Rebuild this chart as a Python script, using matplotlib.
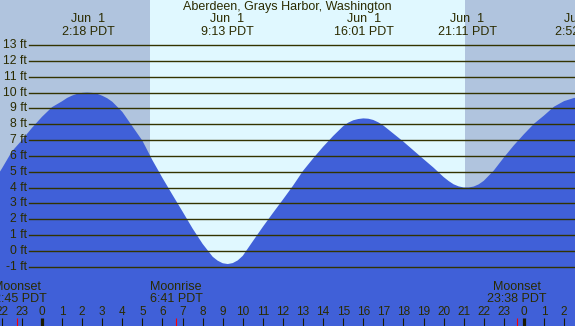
import matplotlib
matplotlib.use("Agg")
import matplotlib.pyplot as plt

plt.rcParams['font.family'] = ['Liberation Sans', 'DejaVu Sans']

# hauteur de marée (heures depuis minuit le 1er juin, pieds)
hours = [-2.5, -2.0, -1.5, -1.0, -0.5, 0.0, 0.5, 1.0, 1.25, 1.5, 1.75, 2.0, 2.25, 2.5,
         2.75, 3.0, 3.25, 3.5, 4.0, 4.5, 5.0, 5.5, 6.0, 6.5, 7.0, 7.5, 8.0, 8.5,
         8.75, 9.0, 9.25, 9.5, 9.75, 10.0, 10.5, 11.0, 11.5, 12.0, 12.5, 13.0, 13.5,
         14.0, 14.5, 15.0, 15.25, 15.5, 15.75, 16.0, 16.25, 16.5, 16.75, 17.0, 17.5,
         18.0, 18.5, 19.0, 19.5, 20.0, 20.25, 20.5, 20.75, 21.0, 21.25, 21.5, 21.75,
         22.0, 22.5, 23.0, 23.5, 24.0, 24.5, 25.0, 25.5, 26.0, 26.5, 27.0]
heights = [4.2, 5.2, 6.28, 7.0, 7.77, 8.47, 9.08, 9.45, 9.66, 9.81, 9.92, 9.98, 10.0, 9.98,
           9.92, 9.80, 9.64, 9.42, 8.78, 7.87, 6.96, 5.73, 4.61, 3.54, 2.49, 1.42, 0.45, -0.36,
           -0.61, -0.77, -0.82, -0.76, -0.59, -0.30, 0.62, 1.53, 2.40, 3.25, 4.12, 5.06, 5.84,
           6.58, 7.26, 7.88, 8.1, 8.25, 8.33, 8.37, 8.35, 8.27, 8.12, 7.92, 7.41,
           6.90, 6.35, 5.80, 5.26, 4.67, 4.42, 4.21, 4.08, 4.01, 4.01, 4.07, 4.21,
           4.43, 5.08, 5.9, 6.67, 7.37, 8.03, 8.55, 9.11, 9.46, 9.66, 9.7]

# extrêmes annoncés en haut
tide_times = [2 + 18/60, 9 + 13/60, 16 + 1/60, 21 + 11/60, 24 + 2 + 52/60]
tide_labels = ["2:18 PDT", "9:13 PDT", "16:01 PDT", "21:11 PDT", "2:52 PDT"]

# lune (heures depuis minuit, la première est la veille)
moon_times = [-(1 + 15/60), 6 + 41/60, 23 + 38/60]
moon_names = ["Moonset", "Moonrise", "Moonset"]
moon_labels = ["22:45 PDT", "6:41 PDT", "23:38 PDT"]

sunrise = 5 + 23/60
sunset = 21 + 4/60

ft_levels = list(range(-1, 14))
hour_ticks = list(range(-2, 27))

x_min, x_max = -2.092, 26.544
y_min, y_max = -4.73, 15.84

txt = '#2b2b00'
fig = plt.figure(figsize=(5.75, 3.26), dpi=100)
ax = fig.add_axes([0, 0, 1, 1])
ax.set_xlim(x_min, x_max)
ax.set_ylim(y_min, y_max)
ax.axis('off')

# jour / nuit
ax.axvspan(x_min, sunrise, color='#b0c4de', lw=0)
ax.axvspan(sunrise, sunset, color='#e0f8ff', lw=0)
ax.axvspan(sunset, x_max, color='#b0c4de', lw=0)

ax.fill_between(hours, heights, y_min - 1, color='#4060d8', lw=0)

for ft in ft_levels:
    ax.axhline(ft, xmin=29/575, xmax=1, color='#333300', lw=1.0)
    ax.text(27/575, ft, f"{ft} ft", transform=ax.get_yaxis_transform(),
            ha='right', va='center', fontsize=8.7, color=txt)

ax.text(0.5, 15.38, "Aberdeen, Grays Harbor, Washington", ha='center', va='center',
        transform=ax.get_yaxis_transform(), fontsize=9, color=txt)
for t, lab in zip(tide_times, tide_labels):
    ax.text(t, 14.62, "Jun  1", ha='center', va='center', fontsize=9, color=txt)
    ax.text(t, 13.8, lab, ha='center', va='center', fontsize=9, color=txt)

for t, name, lab in zip(moon_times, moon_names, moon_labels):
    ax.text(t, -2.27, name, ha='center', va='center', fontsize=9, color=txt)
    ax.text(t, -3.03, lab, ha='center', va='center', fontsize=9, color=txt)
    ax.vlines(t, -4.8, -4.23, color='red', lw=0.8)

for h in hour_ticks:
    ax.text(h, -3.85, str(h % 24), ha='center', va='center', fontsize=8.5, color=txt)
    if h % 24 == 0:
        ax.vlines(h, -4.8, -4.23, color='#1a1a00', lw=2.3)
    else:
        ax.vlines(h, -4.8, -4.23, color='#1a1a00', lw=0.8)

fig.savefig("out.png", dpi=100)
